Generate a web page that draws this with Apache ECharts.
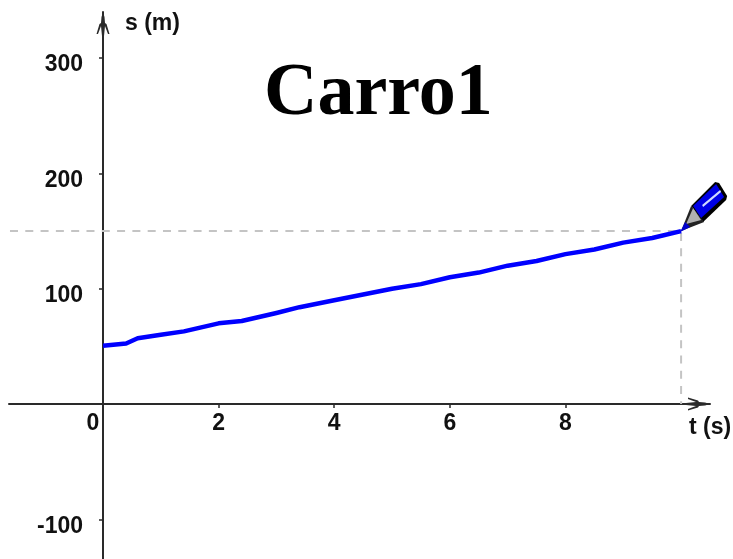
<!DOCTYPE html>
<html>
<head>
<meta charset="utf-8">
<title>Carro1</title>
<script src="https://cdn.jsdelivr.net/npm/echarts@6/dist/echarts.min.js"></script>
<style>
  html, body { margin: 0; padding: 0; background: #fff; }
  #chart { width: 733px; height: 559px; }
</style>
</head>
<body>
<div id="chart"></div>
<script>
// data
const timeValues = [0, 0.4, 0.6, 1, 1.4, 2, 2.4, 3, 3.4, 4, 4.5, 5, 5.5, 6, 6.5, 7, 7.5, 8, 8.5, 9, 9.5, 10]
const distValues = [50.5, 52.5, 57, 60, 63, 70, 72, 79, 84, 90, 95, 100, 104, 110, 114, 120, 124, 130, 134, 140, 144, 150]
const xTicks = [0, 2, 4, 6, 8]
const yTicks = [-100, 100, 200, 300]
const penPoint = [10, 150]
const guideLeft = -1.782

const axisColor = '#2a2a2a'
const guideColor = '#c4c4c4'
const labelFont = { color: '#111', fontFamily: 'Liberation Sans', fontWeight: 'bold', fontSize: 23 }

// open arrow head, tip pointing up
const arrowPath = 'path://M6.5 0 L8 5 L8.5 11 L10 12 L13 22 L11.5 22 L8.5 14 L7.5 24 L5.5 24 L4.5 14 L1.5 22 L0 22 L3 12 L4.5 11 L5 5 Z'

function renderPen(params, api) {
  const p = api.coord(penPoint)
  const poly = (points, fill) => ({ type: 'polygon', shape: { points }, style: { fill } })
  return {
    type: 'group',
    x: p[0],
    y: p[1],
    children: [
      poly([[10, -25], [34, -49], [38, -48], [46, -35], [45, -31], [22, -9]], '#000'),
      poly([[12, -25], [35, -47], [43, -34], [20, -13]], '#0000e6'),
      poly([[21, -26], [39, -41], [40, -39], [22, -24]], '#cfd8ff'),
      poly([[0, 0], [10, -25], [23, -9]], '#222'),
      poly([[5, -7], [12, -23], [20, -11]], '#b0b0b0'),
      poly([[-1, 1], [4, -9], [9, -4]], '#0000cc')
    ]
  }
}

function guideSeries(points) {
  return {
    type: 'line',
    clip: false,
    silent: true,
    symbol: 'none',
    data: points,
    lineStyle: { color: guideColor, type: [8, 7.3], dashOffset: 5.3, width: 2 },
    z: 1
  }
}

const chart = echarts.init(document.getElementById('chart'))

chart.setOption({
  animation: false,
  backgroundColor: '#fff',
  title: {
    text: 'Carro1',
    left: 259,
    top: 53,
    textStyle: {
      color: '#000',
      fontFamily: 'Liberation Serif',
      fontWeight: 'bold',
      fontSize: 74
    }
  },
  grid: { left: 9, right: 23, top: 12, bottom: 0, outerBoundsMode: 'none' },
  xAxis: {
    type: 'value',
    min: -1.626,
    max: 10.5,
    name: 't (s)',
    nameLocation: 'end',
    nameGap: 0,
    nameTextStyle: Object.assign({}, labelFont, {
      align: 'center',
      verticalAlign: 'top',
      padding: [12, 0, 0, 0]
    }),
    splitLine: { show: false },
    axisLine: {
      onZero: true,
      symbol: ['none', arrowPath],
      symbolSize: [13, 24],
      symbolOffset: [0, -12],
      lineStyle: { color: axisColor, width: 2 }
    },
    axisTick: { customValues: xTicks.slice(1), length: 4, lineStyle: { color: axisColor, width: 1.5 } },
    axisLabel: {
      customValues: xTicks,
      // labels stay at the grid edge, pull them back next to the axis
      margin: -147,
      color: labelFont.color,
      fontFamily: labelFont.fontFamily,
      fontWeight: labelFont.fontWeight,
      fontSize: labelFont.fontSize,
      formatter: v => (v === 0 ? '{zero|0}' : String(v)),
      rich: {
        zero: Object.assign({}, labelFont, { padding: [0, 20, 0, 0] })
      }
    }
  },
  yAxis: {
    type: 'value',
    min: -134.4,
    max: 340,
    name: 's (m)',
    nameLocation: 'end',
    nameGap: 0,
    nameTextStyle: Object.assign({}, labelFont, {
      align: 'left',
      verticalAlign: 'top',
      padding: [0, 0, 0, 22]
    }),
    splitLine: { show: false },
    axisLine: {
      onZero: true,
      symbol: ['none', arrowPath],
      symbolSize: [13, 24],
      symbolOffset: [0, -12],
      lineStyle: { color: axisColor, width: 2 }
    },
    axisTick: { customValues: yTicks, length: 4, lineStyle: { color: axisColor, width: 1.5 } },
    axisLabel: {
      customValues: yTicks,
      margin: -74,
      formatter: v => '{low|' + v + '}',
      rich: {
        low: Object.assign({}, labelFont, { padding: [14, 0, 0, 0] })
      }
    }
  },
  series: [
    guideSeries([[guideLeft, penPoint[1]], penPoint]),
    guideSeries([[penPoint[0], 0], penPoint]),
    {
      type: 'line',
      symbol: 'none',
      data: timeValues.map((t, i) => [t, distValues[i]]),
      lineStyle: { color: '#0000ff', width: 4.5, join: 'round' },
      z: 3
    },
    {
      type: 'custom',
      clip: false,
      silent: true,
      renderItem: renderPen,
      data: [penPoint],
      z: 5
    }
  ]
})
</script>
</body>
</html>
